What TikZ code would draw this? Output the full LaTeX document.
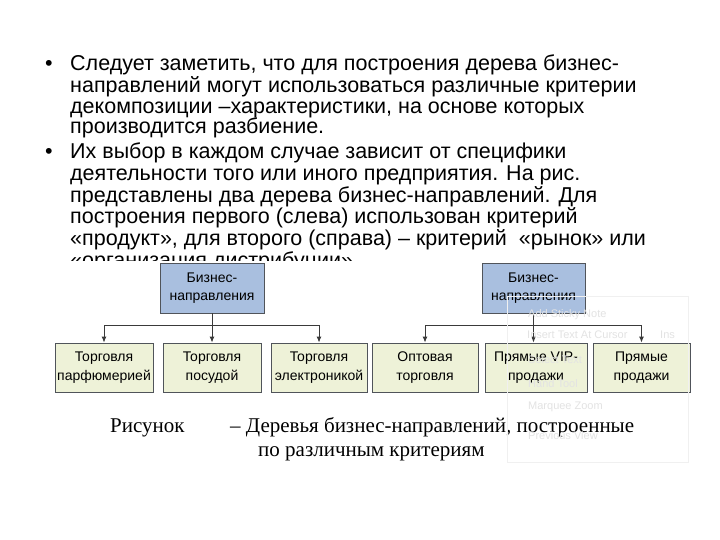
\documentclass[tikz,border=0pt]{standalone}
\usepackage{fontspec}
\setmainfont{Liberation Sans}
\newfontfamily\capfont{Liberation Serif}
\usetikzlibrary{arrows.meta}
\definecolor{rootfill}{HTML}{A9BFDF}
\definecolor{leaffill}{HTML}{EEF2D8}
\definecolor{boxline}{HTML}{50545A}
\definecolor{connline}{HTML}{3A3A3A}
\tikzset{
  txt/.style={anchor=base west, inner sep=0pt, font=\fontsize{21.5}{24}\selectfont},
  captxt/.style={anchor=base west, inner sep=0pt, font=\capfont\fontsize{21}{24}\selectfont},
  rootbox/.style={draw=boxline, fill=rootfill, line width=0.9pt, minimum height=50pt, align=center, inner sep=0pt, font=\fontsize{14}{18.5}\selectfont},
  leafbox/.style={draw=boxline, fill=leaffill, line width=0.9pt, minimum height=49pt, align=center, inner sep=0pt, font=\fontsize{14}{18.5}\selectfont},
  conn/.style={draw=connline, line width=0.9pt},
  arr/.style={conn, -{Latex[length=6pt,width=5pt]}},
  menutxt/.style={anchor=base west, inner sep=0pt, text=black!11, font=\fontsize{11}{13}\selectfont}
}
\begin{document}
\begin{tikzpicture}[x=1pt,y=-1pt]
\useasboundingbox (0,0) rectangle (720,540);
\fill[white] (0,0) rectangle (720,540);
% bullet text
\node[txt] (b1) at (45,71) {•};
\node[txt] (t1) at (70,71) {Следует заметить, что для построения дерева бизнес-};
\node[txt] (t2) at (70,92.5) {направлений могут использоваться различные критерии};
\node[txt] (t3) at (70,113.5) {декомпозиции –характеристики, на основе которых};
\node[txt] (t4) at (70,134) {производится разбиение.};
\node[txt] (b2) at (45,159) {•};
\node[txt] (t5) at (70,159) {Их выбор в каждом случае зависит от специфики};
\node[txt] (t6) at (70,181) {деятельности того или иного предприятия. На рис.};
\node[txt] (t7) at (70,202.5) {представлены два дерева бизнес-направлений. Для};
\node[txt] (t8) at (70,224) {построения первого (слева) использован критерий};
\node[txt] (t9) at (70,245.5) {«продукт», для второго (справа) – критерий\ \ «рынок» или};
\node[txt] (t10) at (70,267.5) {«организация дистрибуции»};
% image area covering the last line
\fill[white] (40,261) rectangle (700,472);
% left tree
\node[rootbox, minimum width=104pt] (lroot) at (212,288) {Бизнес-\\направления};
\node[leafbox, minimum width=98pt] (l1) at (104,367.5) {Торговля\\парфюмерией};
\node[leafbox, minimum width=98pt] (l2) at (212,367.5) {Торговля\\посудой};
\node[leafbox, minimum width=96pt] (l3) at (319,367.5) {Торговля\\электроникой};
\coordinate (lj) at (212,325);
\draw[conn] (lroot.south) -- (lj);
\draw[arr] (lj) -| (l1.north);
\draw[arr] (lj) -- (l2.north);
\draw[arr] (lj) -| (l3.north);
% right tree
\node[rootbox, minimum width=103pt] (rroot) at (533.5,288) {Бизнес-\\направления};
\node[leafbox, minimum width=106pt] (r1) at (425,367.5) {Оптовая\\торговля};
\node[leafbox, minimum width=102pt] (r2) at (536,367.5) {Прямые VIP-\\продажи};
\node[leafbox, minimum width=97pt] (r3) at (641.5,367.5) {Прямые\\продажи};
\coordinate (rj) at (533.5,325);
\draw[conn] (rroot.south) -- (rj);
\draw[arr] (rj) -| (r1.north);
\draw[arr] (rj) -- (rj |- r2.north);
\draw[arr] (rj) -| (r3.north);
% caption
\node[captxt] (c1) at (110,432) {Рисунок};
\node[captxt] (c2) at (230,432) {– Деревья бизнес-направлений, построенные};
\node[captxt] (c3) at (258,456) {по различным критериям};
% faint context-menu overlay
\draw[black!6, line width=0.8pt] (507,296) rectangle (688,462);
\node[menutxt] (m1) at (528,317) {Add Sticky Note};
\node[menutxt] (m2) at (527,338) {Insert Text At Cursor};
\node[menutxt] (m2b) at (660,338) {Ins};
\node[menutxt] (m3) at (528,363) {Select Text};
\node[menutxt] (m4) at (528,387) {Hand Tool};
\node[menutxt] (m5) at (528,409) {Marquee Zoom};
\node[menutxt] (m6) at (528,439) {Previous View};
\end{tikzpicture}
\end{document}
